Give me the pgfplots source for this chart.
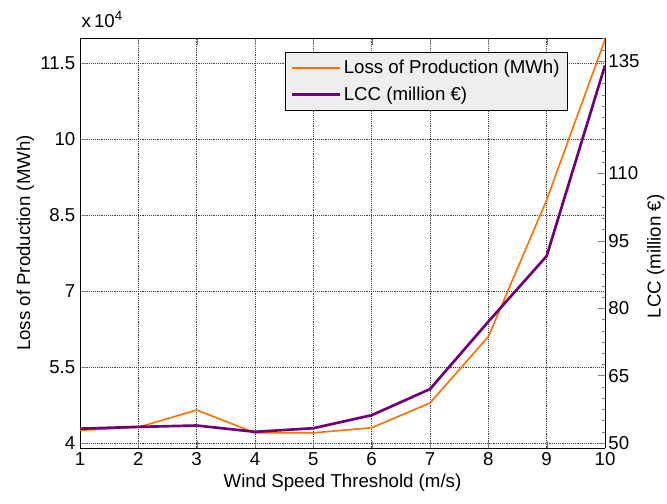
\documentclass[border=0pt]{standalone}
\usepackage{pgfplots}
\pgfplotsset{compat=1.18}
\usepackage{fontspec}
\setmainfont{Liberation Sans}
\definecolor{lossorange}{RGB}{255,110,0}
\definecolor{lccpurple}{RGB}{112,0,118}
\definecolor{legbg}{RGB}{238,238,238}
\newcommand{\chf}{\fontsize{14}{16}\selectfont}

\begin{document}
\begin{tikzpicture}[x=1pt,y=1pt]
\pgfplotsset{
  every axis/.append style={
    width=393.75pt, height=307.5pt, scale only axis,
    xmin=1, xmax=10,
    tick label style={font=\chf},
    label style={font=\chf},
    /pgf/number format/assume math mode=true,
    tick align=inside,
    major tick length=5pt, minor tick length=2.5pt,
    axis line style={line width=0.6pt},
  },
}
% left axis: loss of production
\begin{axis}[
  axis y line*=left,
  ymin=3.9, ymax=12.0,
  ytick={4,5.5,7,8.5,10,11.5},
  yticklabels={4,5.5,7,8.5,10,11.5},
  xtick={1,...,10},
  xtick pos=both,
  grid=major,
  grid style={densely dotted, black!75, line width=0.6pt},
  xlabel={Wind Speed Threshold (m/s)},
  ylabel={Loss of Production (MWh)},
  xlabel style={at={([yshift=-26pt]axis description cs:0.5,0)}, anchor=center},
  ylabel style={at={([xshift=-41pt]axis description cs:0,0.5)}, anchor=center},
  clip=false,
]
\addplot[lossorange, line width=1.2pt] coordinates {
  (1,4.25) (2,4.31) (3,4.65) (4,4.20) (5,4.20) (6,4.30) (7,4.79) (8,6.10) (9,8.80) (10,11.97)};
\node[anchor=west, font=\chf, inner sep=0pt] at ([xshift=1pt,yshift=14pt]rel axis cs:0,1) {x\,10$^{\mbox{\fontsize{10}{11}\selectfont 4}}$};
\end{axis}
% right axis: LCC
\begin{axis}[
  axis y line*=right, axis x line=none,
  ymin=48.9, ymax=140.1,
  ytick={50,65,80,95,110,135},
  minor ytick={50,52.5,...,140},
  ylabel={LCC (million €)},
  ylabel style={at={([xshift=38pt,yshift=-10pt]axis description cs:1,0.5)}, anchor=center, rotate=0},
  yticklabel style={xshift=-1pt},
  legend style={at={(0.9295,0.966)}, anchor=north east, fill=legbg,
    draw=black, line width=0.6pt, font=\chf, row sep=4pt,
    inner xsep=4pt, inner ysep=4pt, cells={anchor=west}},
  legend image code/.code={\draw[#1] (0pt,0pt) -- (36pt,0pt);},
]
\addlegendimage{lossorange, line width=1.2pt}
\addlegendentry{Loss of Production (MWh)}
\addplot[lccpurple, line width=2pt] coordinates {
  (1,53.2) (2,53.6) (3,53.9) (4,52.5) (5,53.3) (6,56.2) (7,62.0) (8,77.0) (9,91.6) (10,134.0)};
\addlegendentry{LCC (million €)}
\end{axis}
\pgfresetboundingbox
\path[use as bounding box] (-60pt,-41.25pt) rectangle (440.25pt,336pt);
\end{tikzpicture}
\end{document}
